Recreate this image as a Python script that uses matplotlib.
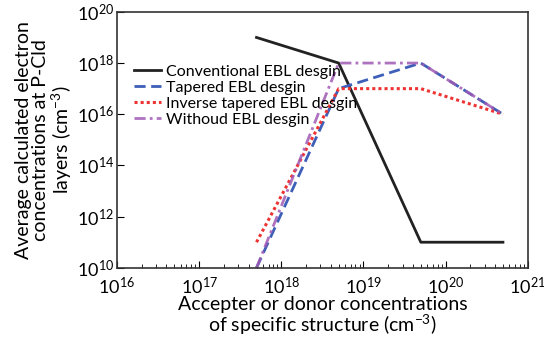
import matplotlib
matplotlib.use('Agg')
import matplotlib.pyplot as plt

plt.rcParams['font.family'] = ['Lato', 'DejaVu Sans']
plt.rcParams['mathtext.fontset'] = 'custom'
plt.rcParams['mathtext.rm'] = 'Lato'

# Data
x_conc = [5e17, 5e18, 5e19, 5e20]
conventional = [1e19, 1e18, 1e11, 1e11]
tapered = [1e10, 1e17, 1e18, 1e16]
inverse_tapered = [1e11, 1e17, 1e17, 1e16]
without = [1e10, 1e18, 1e18, 1e16]

fig = plt.figure(figsize=(5.44, 3.39), dpi=100)
ax = fig.add_axes([0.215, 0.21, 0.755, 0.755])

ax.plot(x_conc, conventional, color='#222222', lw=2, label='Conventional EBL desgin')
ax.plot(x_conc, tapered, color='#3d5fb8', lw=2, ls=(0, (4, 2)), label='Tapered EBL desgin')
ax.plot(x_conc, inverse_tapered, color='#ee3333', lw=2.2, ls=(0, (1, 1)), label='Inverse tapered EBL desgin')
ax.plot(x_conc, without, color='#a05ab4', lw=2, ls=(0, (4, 1.5, 1, 1.5)), alpha=0.85,
        label='Withoud EBL desgin')

ax.set_xscale('log')
ax.set_yscale('log')
ax.set_xlim(1e16, 1e21)
ax.set_ylim(1e10, 1e20)
ax.set_xticks([1e16, 1e17, 1e18, 1e19, 1e20, 1e21])
ax.set_yticks([1e10, 1e12, 1e14, 1e16, 1e18, 1e20])
ax.tick_params(which='both', direction='in', labelsize=13)
ax.tick_params(axis='x', pad=6)
ax.tick_params(axis='y', pad=2)
ax.tick_params(which='major', length=5)
ax.tick_params(which='minor', length=3)
for s in ax.spines.values():
    s.set_linewidth(1.2)
    s.set_color('#333333')

ax.set_xlabel('Accepter or donor concentrations\nof specific structure (cm$^{-3}$)',
              fontsize=14, linespacing=0.95, labelpad=-1)
ax.set_ylabel('Average calculated electron\nconcentrations at P-Cld\nlayers (cm$^{-3}$)',
              fontsize=14, linespacing=1.0, labelpad=2)

ax.legend(loc='upper left', bbox_to_anchor=(0.025, 0.82), frameon=False, fontsize=11.5,
          handlelength=1.7, handletextpad=0.35, labelspacing=0.12, borderaxespad=0)

fig.savefig('out.png', dpi=100)
